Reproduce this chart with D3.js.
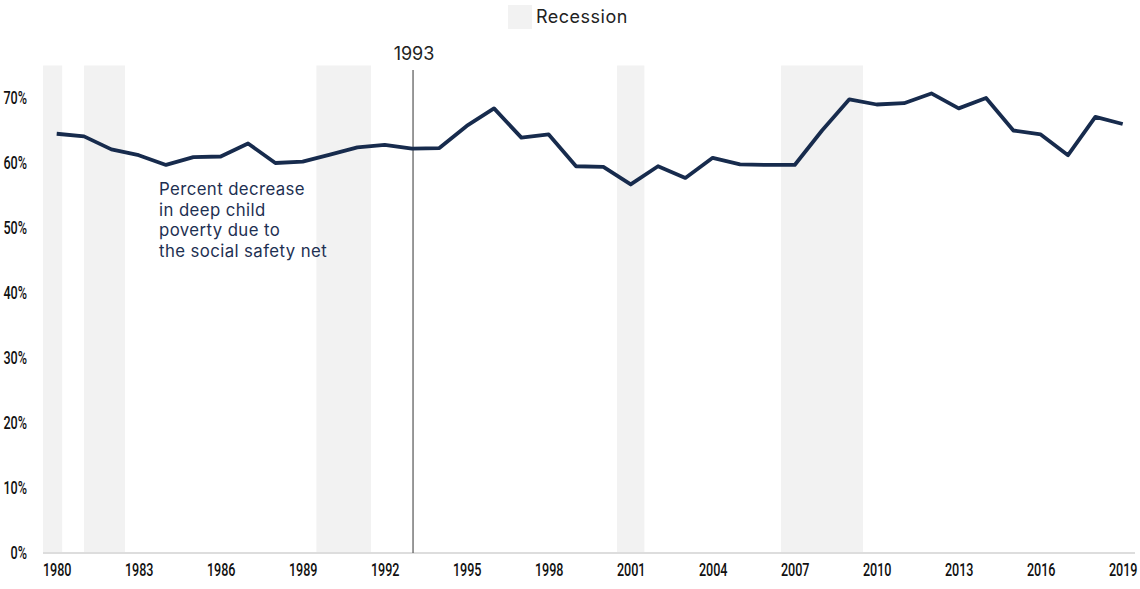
<!DOCTYPE html>
<html lang="en">
<head>
    <meta charset="UTF-8">
    <title>Deep child poverty</title>
    <script src="https://d3js.org/d3.v7.min.js"></script>
    <style>
        body { margin: 0; background: #fff; }
        .tick text { font-family: Roboto, "Liberation Sans", sans-serif; font-size: 17.5px; font-weight: 500; fill: #111; }
        .label { font-family: Inter, "Open Sans", sans-serif; }
    </style>
</head>
<body>
<svg id="chart" width="1140" height="589"></svg>

<script>
    // Years and the percent decrease in deep child poverty.
    let years = d3.range(1980, 2020);
    let pctDecrease = [64.5, 64.1, 62.1, 61.2, 59.7, 60.9, 61.0, 63.0, 60.0, 60.2,
                       61.3, 62.4, 62.8, 62.2, 62.3, 65.7, 68.4, 63.9, 64.4, 59.5,
                       59.4, 56.7, 59.5, 57.7, 60.8, 59.8, 59.7, 59.7, 65.0, 69.8,
                       69.0, 69.2, 70.7, 68.4, 70.0, 65.0, 64.4, 61.2, 67.1, 66.0];

    // Recession periods as [start, end] in fractional years.
    let recessionStart = [1979.5, 1981.0, 1989.5, 2000.5, 2006.5];
    let recessionEnd   = [1980.2, 1982.5, 1991.5, 2001.5, 2009.5];

    let xTicks = d3.range(1980, 2020, 3);
    let yTicks = [0, 10, 20, 30, 40, 50, 60, 70];
    let markerYear = 1993;
    let noteLines = ["Percent decrease", "in deep child", "poverty due to", "the social safety net"];

    let svg = d3.select("#chart");

    let x = d3.scaleLinear().domain([1980, 2019]).range([56.7, 1122.7]);
    let y = d3.scaleLinear().domain([0, 75]).range([553, 65.5]);

    // Recession bands
    svg.append("g")
        .selectAll("rect")
        .data(recessionStart.map((s, i) => [s, recessionEnd[i]]))
        .enter().append("rect")
        .attr("x", d => x(d[0]))
        .attr("width", d => x(d[1]) - x(d[0]))
        .attr("y", y(75))
        .attr("height", y(0) - y(75))
        .attr("fill", "#f2f2f2");

    // Baseline
    svg.append("line")
        .attr("x1", 43).attr("x2", 1135)
        .attr("y1", y(0)).attr("y2", y(0))
        .attr("stroke", "#dddddd")
        .attr("stroke-width", 2);

    // Axes
    svg.append("g")
        .attr("transform", `translate(27,0)`)
        .call(d3.axisLeft(y).tickValues(yTicks).tickSize(0).tickPadding(0).tickFormat(d => d + "%"))
        .call(g => g.select(".domain").remove());

    svg.append("g")
        .attr("transform", `translate(0,${y(0)})`)
        .call(d3.axisBottom(x).tickValues(xTicks).tickSize(0).tickPadding(11).tickFormat(d3.format("d")))
        .call(g => g.select(".domain").remove());

    // The tick font in the original is a condensed face: squeeze horizontally
    // around the anchor point (x = 0 inside each tick group).
    svg.selectAll(".tick text")
        .attr("x", 0)
        .attr("transform", "scale(0.72,1)");

    // 1993 marker
    svg.append("line")
        .attr("x1", x(markerYear) + 1).attr("x2", x(markerYear) + 1)
        .attr("y1", 70).attr("y2", y(0))
        .attr("stroke", "#555")
        .attr("stroke-width", 1.2);
    svg.append("text")
        .attr("class", "label")
        .attr("x", x(markerYear) + 2)
        .attr("y", 60)
        .attr("text-anchor", "middle")
        .attr("font-size", 18)
        .attr("fill", "#222")
        .text(markerYear);

    // Data line
    let line = d3.line()
        .x((d, i) => x(years[i]))
        .y(d => y(d));
    svg.append("path")
        .datum(pctDecrease)
        .attr("fill", "none")
        .attr("stroke", "#172b4d")
        .attr("stroke-width", 3.8)
        .attr("stroke-linejoin", "round")
        .attr("d", line);

    // Annotation
    svg.append("g")
        .selectAll("text")
        .data(noteLines)
        .enter().append("text")
        .attr("class", "label")
        .attr("font-size", 16.8)
        .attr("letter-spacing", 0.4)
        .attr("fill", "#1e3052")
        .attr("x", 159)
        .attr("y", (d, i) => 195 + i * 20.5)
        .text(d => d);

    // Legend
    svg.append("rect")
        .attr("x", 508).attr("y", 5)
        .attr("width", 24).attr("height", 24)
        .attr("fill", "#f2f2f2");
    svg.append("text")
        .attr("class", "label")
        .attr("x", 536)
        .attr("y", 23)
        .attr("font-size", 18)
        .attr("letter-spacing", 0.5)
        .attr("fill", "#222")
        .text("Recession");
</script>
</body>
</html>
